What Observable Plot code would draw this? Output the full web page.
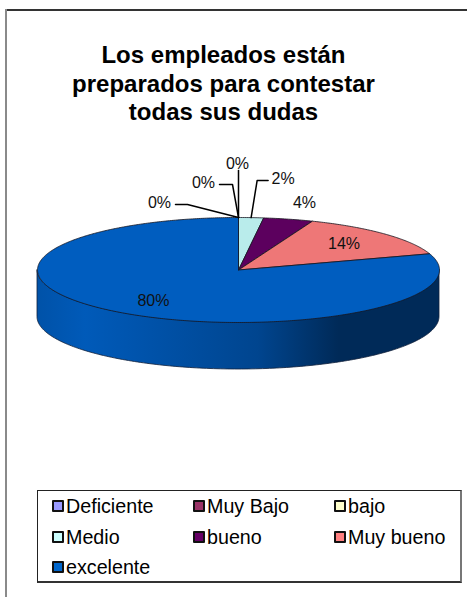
<!DOCTYPE html>
<html lang="es">
<head>
<meta charset="utf-8">
<script src="https://cdn.jsdelivr.net/npm/d3@7"></script>
<script src="https://cdn.jsdelivr.net/npm/@observablehq/plot@0.6"></script>
<style>
  html, body { margin: 0; padding: 0; background: #fff; width: 467px; height: 597px; overflow: hidden; }
  body { font-family: "Liberation Sans", Arial, sans-serif; color: #000; position: relative; }
  #edge-top { position: absolute; left: 5px; right: 0; top: 9px; height: 2px; background: #333; }
  #edge-left { position: absolute; left: 5px; top: 9px; bottom: 0; width: 2px; background: #8a8a8a; }
  #title { position: absolute; left: 0; width: 447px; top: 41px; text-align: center; font-weight: 700; font-size: 24px; line-height: 28.5px; }
  #chart { position: absolute; left: 0; top: 140px; }
  #legend { position: absolute; left: 37px; top: 490px; width: 425px; height: 93px; box-sizing: border-box; border: 1px solid #222; border-right: 2px solid #777; border-bottom: 2px solid #333; }
  .key { position: absolute; display: flex; align-items: center; font-size: 19.7px; line-height: 22px; white-space: nowrap; }
  .key i { display: block; width: 8px; height: 8px; border: 2px solid #111; margin-right: 2px; border-radius: 1px; }
</style>
</head>
<body>
<div id="edge-top"></div>
<div id="edge-left"></div>
<div id="title">Los empleados están<br>preparados para contestar<br>todas sus dudas</div>
<div id="chart"></div>
<div id="legend"></div>
<script>
// Survey answers, clockwise from twelve o'clock
const categories = ["Deficiente", "Muy Bajo", "bajo", "Medio", "bueno", "Muy bueno", "excelente"];
const percents = [0, 0, 0, 2, 4, 14, 80];
const legendColors = ["#9999FF", "#993366", "#FFFFCC", "#CCFFFF", "#660066", "#FF8080", "#0066CC"];
const sliceColors = ["#8f8fee", "#8f2f5f", "#eeeebb", "#b9eceb", "#5c005e", "#ee7777", "#005dbf"];

// Tilted disc geometry, in pixels
const rx = 201, ry = 52.5, depth = 47, cx = 238, cy = 129.5, chartHeight = 240;

const toAngle = (p) => (p / 100) * 2 * Math.PI;
const rim = (a) => ({x: rx * Math.sin(a), y: ry * Math.cos(a)});

// Cumulative start and end angle of every slice
let running = 0;
const slices = categories.map((name, i) => {
  const start = toAngle(running);
  running += percents[i];
  const end = toAngle(running);
  return {name, value: percents[i], color: sliceColors[i], start, end, mid: (start + end) / 2};
});

// Outline of each wedge on the top face
const wedgePoints = slices.flatMap((s) => {
  const steps = Math.max(1, Math.ceil((s.end - s.start) / 0.01));
  const arc = d3.range(steps + 1).map((k) => rim(s.start + ((s.end - s.start) * k) / steps));
  return [{x: 0, y: 0}, ...arc, {x: 0, y: 0}].map((p) => ({...p, name: s.name, color: s.color}));
});

// Front half of the disc wall
const wall = d3.range(0, 181).map((deg) => {
  const p = rim(Math.PI / 2 + (deg * Math.PI) / 180);
  return {x: p.x, top: p.y, bottom: p.y - depth};
});

// Callouts for the thin slices: offsets from the rim, x right and y up
const callouts = {
  "Deficiente": {path: [[-51, 13], [-63, 13]], label: [-79, 15]},
  "Muy Bajo": {path: [[-6, 33], [-19, 33]], label: [-35, 35]},
  "bajo": {path: [[0, 47]], label: [-1, 54]},
  "Medio": {path: [[6, 37], [17, 37]], label: [32, 39]}
};
const leaderPoints = slices.filter((s) => callouts[s.name]).flatMap((s) => {
  const a = rim(s.mid);
  return [[0, 0], ...callouts[s.name].path].map(([dx, dy]) => ({x: a.x + dx, y: a.y + dy, name: s.name}));
});

// Value labels: callout ends, or a radial position on the slice
const labels = slices.map((s) => {
  const a = rim(s.mid);
  const c = callouts[s.name];
  const k = s.value > 10 ? 0.72 : 1.32;
  return {
    text: `${s.value}%`,
    x: c ? a.x + c.label[0] : a.x * k,
    y: c ? a.y + c.label[1] : a.y * k
  };
});

// Shading of the wall, left to right across the disc
const wallGradient = () => {
  const svg = d3.create("svg:defs");
  const g = svg.append("linearGradient").attr("id", "wall-shade");
  [[0, "#0052a8"], [0.12, "#005ab9"], [0.55, "#00458f"], [0.75, "#002a58"], [1, "#002a58"]]
    .forEach(([o, c]) => g.append("stop").attr("offset", o).attr("stop-color", c));
  return svg.node();
};

const plot = Plot.plot({
  width: 467,
  height: chartHeight,
  margin: 0,
  style: {background: "transparent", overflow: "visible"},
  x: {axis: null, domain: [-rx, rx], range: [cx - rx, cx + rx]},
  y: {axis: null, domain: [-ry, ry], range: [cy + ry, cy - ry]},
  marks: [
    wallGradient,
    Plot.areaY(wall, {x: "x", y1: "top", y2: "bottom", fill: "url(#wall-shade)", stroke: "#10203a", strokeWidth: 0.8}),
    Plot.line(wedgePoints, {x: "x", y: "y", z: "name", fill: (d) => d.color, stroke: "#15151f", strokeWidth: 0.8, strokeLinejoin: "round"}),
    Plot.line(leaderPoints, {x: "x", y: "y", z: "name", stroke: "#000", strokeWidth: 1.5}),
    Plot.text(labels, {x: "x", y: "y", text: "text", fontSize: 16, fill: "#111", fontFamily: "Liberation Sans"})
  ]
});
document.getElementById("chart").append(plot);

// Legend: three columns, filled row by row
const legend = document.getElementById("legend");
const columnLeft = [14, 155, 296], rowTop = [4, 35, 65];
categories.forEach((name, i) => {
  const key = document.createElement("div");
  key.className = "key";
  key.style.left = columnLeft[i % 3] + "px";
  key.style.top = rowTop[Math.floor(i / 3)] + "px";
  const swatch = document.createElement("i");
  swatch.style.background = legendColors[i];
  key.append(swatch, name);
  legend.append(key);
});
</script>
</body>
</html>
